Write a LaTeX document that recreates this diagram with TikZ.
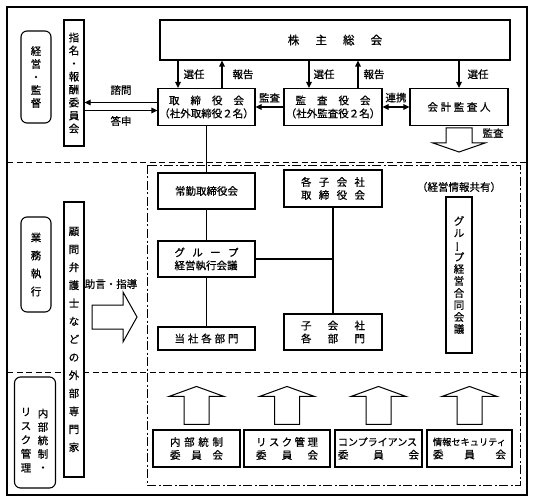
\documentclass[tikz,border=0pt]{standalone}
\usepackage{fontspec}
\usepackage{graphicx}
\setmainfont{Noto Sans CJK JP}[FakeBold=0.6]
\usetikzlibrary{arrows.meta}
\newcommand\jdist[2]{\makebox[#1][s]{#2}}
\newcommand\jfs{\fontsize{10.5}{13}\selectfont}
\newcommand\vbar{\rotatebox[origin=c]{90}{ー}}
\tikzset{
  box/.style={draw, line width=1.1pt, fill=white, inner sep=0pt, align=center, font=\jfs},
  rbox/.style={box, rounded corners=6pt},
  lbl/.style={inner sep=1pt, font=\jfs},
  conn/.style={line width=1.1pt},
  arr/.style={line width=1.1pt, -{Triangle[length=6pt,width=5.5pt]}},
  dbl/.style={line width=1.1pt, {Triangle[length=6pt,width=5.5pt]}-{Triangle[length=6pt,width=5.5pt]}},
  hollow/.style={draw, line width=1pt, fill=white, line join=miter},
  dsh/.style={line width=0.9pt, dash pattern=on 6pt off 3.5pt},
  dashdot/.style={line width=0.9pt, dash pattern=on 9pt off 2.5pt on 2pt off 2.5pt},
}
\begin{document}
\begin{tikzpicture}[x=1pt,y=-1pt]
\useasboundingbox (0,0) rectangle (534,502);
\draw[line width=1.3pt] (7,7) rectangle (527,495);
\draw[dsh] (7,162) -- (527,162);
\draw[dsh] (7,372) -- (527,372);
\draw[dashdot] (147,165) rectangle (520,485);

% left section labels
\node[rbox, minimum width=30pt, minimum height=92pt] (l1) at (36,77) {経\\営\\・\\監\\督};
\node[rbox, minimum width=30pt, minimum height=95pt, font=\fontsize{10.5}{18}\selectfont] (l2) at (36,264.5) {業\\務\\執\\行};
\node[rbox, minimum width=41pt, minimum height=111pt] (l3) at (35,432.5) {};
\node[lbl, align=center, font=\fontsize{10.5}{13.5}\selectfont] (l3a) at (43,440) {内\\部\\統\\制\\・};
\node[lbl, align=center, font=\fontsize{10.5}{14}\selectfont] (l3b) at (26,440) {リ\\ス\\ク\\管\\理};

% vertical boxes
\node[box, minimum width=20pt, minimum height=126pt] (shimei) at (74,83) {指\\名\\・\\報\\酬\\委\\員\\会};
\node[box, minimum width=20pt, minimum height=275pt, font=\fontsize{10.5}{18}\selectfont] (komon) at (74,339.5) {顧\\問\\弁\\護\\士\\な\\ど\\の\\外\\部\\専\\門\\家};

% top boxes
\node[box, minimum width=350pt, minimum height=40pt, font=\fontsize{11.5}{13}\selectfont] (shm) at (335,40) {株\hspace{1.4em}主\hspace{1.4em}総\hspace{1.4em}会};
\node[box, minimum width=97pt, minimum height=37pt] (tori) at (206.5,107) {\jdist{75pt}{取\hfill 締\hfill 役\hfill 会}\\（社外取締役２名）};
\node[box, minimum width=98pt, minimum height=37pt] (kansa) at (333,107) {\jdist{75pt}{監\hfill 査\hfill 役\hfill 会}\\（社外監査役２名）};
\node[box, minimum width=98pt, minimum height=37pt] (kaikei) at (459,107) {\jdist{63pt}{会\hfill 計\hfill 監\hfill 査\hfill 人}};

% middle boxes
\node[box, minimum width=97pt, minimum height=36pt] (joukin) at (206.5,191) {常勤取締役会};
\node[box, minimum width=97pt, minimum height=36pt] (group) at (206.5,259) {\jdist{64pt}{グ\hfill ル\hfill ー\hfill プ}\\\jdist{64pt}{経営執行会議}};
\node[box, minimum width=97pt, minimum height=23pt] (tousha) at (206.5,338.5) {\jdist{64pt}{当\hfill 社\hfill 各\hfill 部\hfill 門}};
\node[box, minimum width=98pt, minimum height=37pt] (kt) at (333,188.5) {\jdist{64pt}{各\hfill 子\hfill 会\hfill 社}\\\jdist{64pt}{取\hfill 締\hfill 役\hfill 会}};
\node[box, minimum width=98pt, minimum height=36pt] (kb) at (333,332) {\jdist{64pt}{子\hfill 会\hfill 社}\\\jdist{64pt}{各\hfill 部\hfill 門}};
\node[lbl] (share) at (459,187) {（経営情報共有）};
\node[box, minimum width=26pt, minimum height=156pt, font=\fontsize{10.5}{12}\selectfont] (goudou) at (459,275) {グ\\ル\\\vbar\\プ\\経\\営\\合\\同\\会\\議};

% committees
\node[box, minimum width=87pt, minimum height=37pt] (naibu) at (196.5,448.5) {\jdist{53pt}{内\hfill 部\hfill 統\hfill 制}\\\jdist{53pt}{委\hfill 員\hfill 会}};
\node[box, minimum width=86pt, minimum height=37pt] (risk) at (287,448.5) {\jdist{62pt}{リ\hfill ス\hfill ク\hfill 管\hfill 理}\\\jdist{62pt}{委\hfill 員\hfill 会}};
\node[box, minimum width=87pt, minimum height=37pt] (comp) at (378.5,448.5) {{\fontsize{10}{13}\selectfont\jdist{81pt}{コンプライアンス}}\\\jdist{81pt}{委\hfill 員\hfill 会}};
\node[box, minimum width=85pt, minimum height=37pt] (joho) at (469.5,448.5) {{\fontsize{9.2}{13}\selectfont 情報セキュリティ}\\\jdist{73pt}{委\hfill 員\hfill 会}};

% connectors
\draw[conn] (tori.south) -- (joukin.north);
\draw[conn] (joukin.south) -- (group.north);
\draw[conn] (group.south) -- (tousha.north);
\draw[conn] (kt.south) -- (kb.north);
\draw[conn] (group.east) -- (group.east -| kt.south);

% arrows from shareholders meeting
\coordinate (a1) at ([xshift=-28.5pt]tori.north);
\coordinate (a2) at ([xshift=15.5pt]tori.north);
\coordinate (a3) at ([xshift=-24pt]kansa.north);
\coordinate (a4) at ([xshift=25pt]kansa.north);
\draw[arr] (a1 |- shm.south) -- (a1) node[lbl, midway, right=4pt] (s1) {選任};
\draw[arr] (a2) -- (a2 |- shm.south) node[lbl, midway, right=9pt] (r1) {報告};
\draw[arr] (a3 |- shm.south) -- (a3) node[lbl, midway, right=3pt] (s2) {選任};
\draw[arr] (a4) -- (a4 |- shm.south) node[lbl, midway, right=4pt] (r2) {報告};
\draw[arr] (kaikei.north |- shm.south) -- (kaikei.north) node[lbl, midway, right=7pt] (s3) {選任};

% consult / report
\coordinate (t1) at ([yshift=4.5pt]tori.west);
\coordinate (t2) at ([yshift=-3.5pt]tori.west);
\draw[arr] (t1) -- (t1 -| shimei.east) node[lbl, midway, above=6pt] (q1) {諮問};
\draw[arr] (t2 -| shimei.east) -- (t2) node[lbl, midway, below=4pt] (q2) {答申};

\draw[arr] (kansa.west) -- (tori.east) node[lbl, midway, above=3pt] (m1) {監査};
\draw[dbl] (kansa.east) -- (kaikei.west) node[lbl, midway, above=3pt] (c1) {連携};

% hollow arrows
\draw[hollow] (446,128) -- (472,128) -- (472,143) -- (485,143) -- (459,152) -- (433,143) -- (446,143) -- cycle;
\node[lbl] (m2) at (493,133) {監査};
\draw[hollow] (92,305) -- (123,305) -- (123,292) -- (137,317) -- (123,342) -- (123,329) -- (92,329) -- cycle;
\node[lbl] (adv) at (111,284) {助言・指導};
\foreach \b in {naibu,risk,comp,joho}{
  \draw[hollow] ([xshift=-12.5pt,yshift=5pt]\b.north) -- ([xshift=-12.5pt,yshift=33pt]\b.north)
    -- ([xshift=-27.5pt,yshift=33pt]\b.north) -- ([yshift=43pt]\b.north)
    -- ([xshift=27.5pt,yshift=33pt]\b.north) -- ([xshift=12.5pt,yshift=33pt]\b.north)
    -- ([xshift=12.5pt,yshift=5pt]\b.north) -- cycle;
}
\end{tikzpicture}
\end{document}
